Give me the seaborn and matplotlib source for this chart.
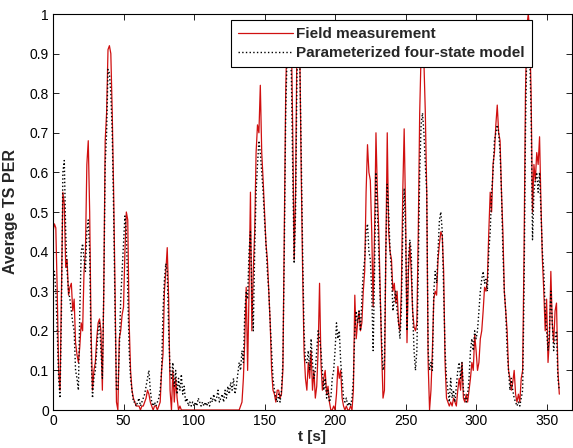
import numpy as np
import pandas as pd
import seaborn as sns
import matplotlib
matplotlib.use("Agg")
import matplotlib.pyplot as plt
from matplotlib.ticker import FixedLocator

# time axis (1 s steps) and the two PER traces
t = np.arange(360)

field = [
    0.45, 0.47, 0.46, 0.30, 0.10, 0.05, 0.30, 0.55, 0.52, 0.36,
    0.38, 0.29, 0.31, 0.32, 0.25, 0.28, 0.17, 0.14, 0.12, 0.16,
    0.22, 0.20, 0.35, 0.40, 0.62, 0.68, 0.50, 0.20, 0.05, 0.10,
    0.12, 0.18, 0.22, 0.23, 0.20, 0.05, 0.30, 0.68, 0.75, 0.91,
    0.92, 0.90, 0.75, 0.55, 0.30, 0.02, 0.00, 0.18, 0.20, 0.24,
    0.26, 0.40, 0.50, 0.48, 0.22, 0.10, 0.05, 0.03, 0.02, 0.01,
    0.01, 0.01, 0.00, 0.01, 0.01, 0.02, 0.03, 0.05, 0.04, 0.02,
    0.01, 0.00, 0.01, 0.01, 0.00, 0.01, 0.02, 0.10, 0.14, 0.30,
    0.35, 0.41, 0.28, 0.05, 0.00, 0.10, 0.02, 0.08, 0.03, 0.00,
    0.01, 0.00, 0.00, 0.00, 0.00, 0.00, 0.00, 0.00, 0.00, 0.00,
    0.00, 0.00, 0.00, 0.00, 0.00, 0.00, 0.00, 0.00, 0.00, 0.00,
    0.00, 0.00, 0.00, 0.00, 0.00, 0.00, 0.00, 0.00, 0.00, 0.00,
    0.00, 0.00, 0.00, 0.00, 0.00, 0.00, 0.00, 0.00, 0.00, 0.00,
    0.00, 0.00, 0.00, 0.01, 0.02, 0.08, 0.18, 0.31, 0.10, 0.30,
    0.55, 0.20, 0.35, 0.45, 0.65, 0.72, 0.70, 0.82, 0.65, 0.58,
    0.50, 0.42, 0.38, 0.30, 0.22, 0.10, 0.05, 0.04, 0.02, 0.05,
    0.05, 0.03, 0.04, 0.10, 0.45, 0.80, 0.97, 0.98, 0.96, 0.95,
    0.70, 0.38, 0.55, 0.95, 0.98, 0.90, 0.60, 0.35, 0.15, 0.08,
    0.05, 0.12, 0.08, 0.15, 0.05, 0.10, 0.03, 0.06, 0.15, 0.32,
    0.12, 0.05, 0.08, 0.10, 0.04, 0.06, 0.02, 0.00, 0.00, 0.01,
    0.00, 0.04, 0.11, 0.08, 0.10, 0.03, 0.01, 0.00, 0.01, 0.00,
    0.00, 0.01, 0.00, 0.05, 0.29, 0.18, 0.22, 0.25, 0.20, 0.22,
    0.30, 0.35, 0.55, 0.67, 0.60, 0.58, 0.45, 0.26, 0.45, 0.70,
    0.55, 0.45, 0.30, 0.15, 0.03, 0.05, 0.40, 0.70, 0.45, 0.40,
    0.38, 0.30, 0.32, 0.27, 0.30, 0.22, 0.20, 0.30, 0.55, 0.71,
    0.50, 0.17, 0.35, 0.42, 0.35, 0.25, 0.21, 0.20, 0.22, 0.45,
    0.75, 0.90, 0.92, 0.88, 0.75, 0.55, 0.12, 0.00, 0.05, 0.15,
    0.28, 0.30, 0.29, 0.38, 0.42, 0.45, 0.44, 0.35, 0.12, 0.03,
    0.02, 0.01, 0.02, 0.01, 0.03, 0.02, 0.01, 0.05, 0.08, 0.05,
    0.12, 0.03, 0.02, 0.04, 0.02, 0.05, 0.08, 0.12, 0.10, 0.19,
    0.15, 0.10, 0.12, 0.18, 0.20, 0.25, 0.31, 0.30, 0.33, 0.45,
    0.55, 0.50, 0.62, 0.65, 0.72, 0.77, 0.70, 0.68, 0.55, 0.45,
    0.30, 0.25, 0.20, 0.10, 0.08, 0.05, 0.07, 0.10, 0.04, 0.02,
    0.04, 0.02, 0.08, 0.10, 0.40, 0.80, 0.97, 1.00, 0.96, 0.80,
    0.50, 0.62, 0.58, 0.65, 0.62, 0.69, 0.52, 0.38, 0.30, 0.20,
    0.28, 0.12, 0.18, 0.35, 0.22, 0.17, 0.25, 0.27, 0.10, 0.04,
]

model = [
    0.33, 0.35, 0.30, 0.20, 0.08, 0.03, 0.25, 0.60, 0.63, 0.45,
    0.35, 0.30, 0.28, 0.25, 0.22, 0.20, 0.10, 0.08, 0.05, 0.25,
    0.40, 0.42, 0.38, 0.35, 0.45, 0.48, 0.40, 0.15, 0.03, 0.08,
    0.10, 0.15, 0.20, 0.22, 0.15, 0.08, 0.30, 0.62, 0.70, 0.86,
    0.85, 0.80, 0.70, 0.50, 0.25, 0.05, 0.05, 0.15, 0.28, 0.35,
    0.42, 0.49, 0.45, 0.30, 0.15, 0.08, 0.05, 0.02, 0.02, 0.01,
    0.02, 0.03, 0.01, 0.02, 0.03, 0.04, 0.06, 0.08, 0.10, 0.05,
    0.02, 0.01, 0.02, 0.01, 0.02, 0.03, 0.05, 0.10, 0.25, 0.33,
    0.37, 0.35, 0.20, 0.10, 0.08, 0.12, 0.06, 0.10, 0.04, 0.08,
    0.05, 0.09, 0.04, 0.06, 0.02, 0.03, 0.01, 0.02, 0.01, 0.02,
    0.01, 0.02, 0.01, 0.03, 0.02, 0.01, 0.02, 0.01, 0.02, 0.01,
    0.02, 0.01, 0.03, 0.02, 0.04, 0.02, 0.03, 0.05, 0.02, 0.03,
    0.04, 0.02, 0.05, 0.03, 0.06, 0.04, 0.07, 0.05, 0.08, 0.04,
    0.06, 0.09, 0.12, 0.10, 0.15, 0.12, 0.25, 0.30, 0.28, 0.40,
    0.45, 0.30, 0.20, 0.40, 0.55, 0.62, 0.68, 0.65, 0.60, 0.55,
    0.48, 0.42, 0.35, 0.30, 0.22, 0.15, 0.08, 0.05, 0.03, 0.02,
    0.04, 0.02, 0.05, 0.12, 0.40, 0.75, 0.90, 0.93, 0.90, 0.85,
    0.60, 0.37, 0.50, 0.85, 0.92, 0.88, 0.65, 0.40, 0.20, 0.12,
    0.12, 0.15, 0.10, 0.18, 0.12, 0.08, 0.10, 0.15, 0.20, 0.18,
    0.15, 0.10, 0.05, 0.08, 0.03, 0.05, 0.02, 0.03, 0.08, 0.10,
    0.15, 0.22, 0.18, 0.20, 0.12, 0.08, 0.03, 0.02, 0.03, 0.01,
    0.02, 0.01, 0.03, 0.08, 0.20, 0.25, 0.22, 0.25, 0.20, 0.28,
    0.35, 0.38, 0.45, 0.47, 0.40, 0.38, 0.30, 0.15, 0.35, 0.60,
    0.50, 0.40, 0.28, 0.18, 0.10, 0.12, 0.40, 0.57, 0.50, 0.40,
    0.35, 0.25, 0.28, 0.30, 0.25, 0.22, 0.18, 0.25, 0.45, 0.56,
    0.45, 0.20, 0.38, 0.43, 0.40, 0.25, 0.15, 0.10, 0.15, 0.35,
    0.60, 0.72, 0.75, 0.70, 0.62, 0.55, 0.15, 0.10, 0.12, 0.10,
    0.30, 0.35, 0.32, 0.40, 0.48, 0.50, 0.45, 0.30, 0.15, 0.08,
    0.05, 0.02, 0.08, 0.03, 0.05, 0.02, 0.06, 0.10, 0.12, 0.08,
    0.12, 0.05, 0.03, 0.02, 0.04, 0.08, 0.15, 0.18, 0.15, 0.20,
    0.18, 0.20, 0.25, 0.30, 0.33, 0.35, 0.32, 0.33, 0.30, 0.40,
    0.45, 0.55, 0.60, 0.68, 0.70, 0.72, 0.70, 0.65, 0.55, 0.40,
    0.30, 0.25, 0.15, 0.10, 0.05, 0.08, 0.05, 0.03, 0.02, 0.01,
    0.02, 0.01, 0.03, 0.05, 0.30, 0.70, 0.93, 0.95, 0.90, 0.75,
    0.43, 0.55, 0.58, 0.60, 0.55, 0.60, 0.50, 0.40, 0.35, 0.25,
    0.20, 0.15, 0.20, 0.30, 0.22, 0.15, 0.18, 0.20, 0.08, 0.05,
]

x_ticks = [0, 50, 100, 150, 200, 250, 300, 350]
y_ticks = [0, 0.1, 0.2, 0.3, 0.4, 0.5, 0.6, 0.7, 0.8, 0.9, 1]
y_labels = ["0", "0.1", "0.2", "0.3", "0.4", "0.5", "0.6", "0.7", "0.8", "0.9", "1"]

df = pd.DataFrame({"t": t, "field": field, "model": model})

# %%
sns.set_style("ticks")
plt.rcParams["font.family"] = ["Liberation Sans", "DejaVu Sans"]

fig = plt.figure(figsize=(5.73, 4.48), dpi=100)
ax = fig.add_axes([53 / 573, 1 - 410 / 448, 519 / 573, 396 / 448])

sns.lineplot(data=df, x="t", y="field", ax=ax, color="#d01010", lw=0.9,
             estimator=None, label="Field measurement")
sns.lineplot(data=df, x="t", y="model", ax=ax, color="black", lw=1.0,
             linestyle=":", estimator=None, label="Parameterized four-state model")

ax.set_xlim(0, 368)
ax.set_ylim(0, 1)
ax.xaxis.set_major_locator(FixedLocator(x_ticks))
ax.set_yticks(y_ticks)
ax.set_yticklabels(y_labels)
ax.tick_params(direction="in", length=4, width=0.6, top=True, right=True,
               labelsize=10, colors="black", pad=3)
for s in ax.spines.values():
    s.set_linewidth(0.8)
    s.set_color("black")

ax.set_xlabel("t [s]", fontsize=11, fontweight="bold", labelpad=1)
ax.set_ylabel("Average TS PER", fontsize=11.5, fontweight="bold", labelpad=8)

leg = ax.legend(loc="upper right", bbox_to_anchor=((532 - 53) / 519, (410 - 20) / 396),
                borderaxespad=0, frameon=True, fancybox=False, framealpha=1,
                edgecolor="black", handlelength=3.6, handletextpad=0.25,
                borderpad=0.45, labelspacing=0.35,
                prop={"weight": "bold", "size": 11})
leg.get_frame().set_linewidth(0.8)

fig.savefig("out.png", dpi=100)
